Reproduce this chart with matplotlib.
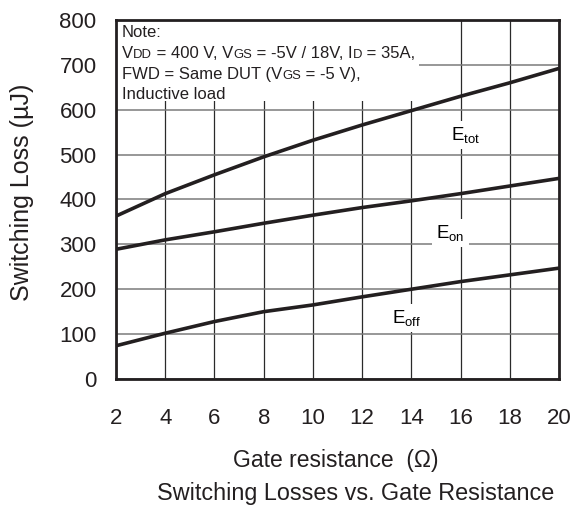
import numpy as np
import matplotlib
matplotlib.use('Agg')
import matplotlib.pyplot as plt
from matplotlib.patches import Rectangle
from matplotlib.transforms import offset_copy

plt.rcParams['font.family'] = ['Liberation Sans', 'DejaVu Sans']
plt.rcParams['mathtext.fontset'] = 'custom'
plt.rcParams['mathtext.rm'] = 'Liberation Sans'
plt.rcParams['mathtext.it'] = 'Liberation Sans'

# gate resistance (ohm) and switching losses (uJ)
rg = [2, 4, 6, 8, 10, 12, 14, 16, 18, 20]
e_tot = [363, 413, 455, 495, 532, 566, 598, 630, 660, 692]
e_on = [289, 310, 328, 347, 365, 382, 397, 413, 430, 447]
e_off = [74, 102, 128, 150, 165, 183, 200, 217, 232, 247]

x_ticks = [2, 4, 6, 8, 10, 12, 14, 16, 18, 20]
y_ticks = [0, 100, 200, 300, 400, 500, 600, 700, 800]

# note lines, as runs of (text, small?) so the small letters sit on the baseline
note_lines = [
    [('Note:', False)],
    [('V', False), ('DD', True), (' = 400 V, V', False), ('GS', True),
     (' = -5V / 18V, I', False), ('D', True), (' = 35A,', False)],
    [('FWD = Same DUT (V', False), ('GS', True), (' = -5 V),', False)],
    [('Inductive load', False)],
]

fig = plt.figure(figsize=(5.71, 5.07), dpi=100)
ax = fig.add_axes([0.2032, 0.2525, 0.7758, 0.7081])

for ys in (e_tot, e_on, e_off):
    ax.plot(rg, ys, color='#231f20', lw=2.6, solid_capstyle='butt', zorder=3)

ax.set_xlim(2, 20)
ax.set_ylim(0, 800)
ax.set_xticks(x_ticks)
ax.set_yticks(y_ticks)
ax.grid(True, axis='x', color='#2a2a2a', lw=0.9)
ax.grid(True, axis='y', color='#7a7a7a', lw=1.1)
ax.tick_params(axis='both', length=0, labelsize=16, colors='#231f20')
ax.tick_params(axis='x', pad=21)
ax.tick_params(axis='y', pad=14)
for s in ax.spines.values():
    s.set_linewidth(2.0)
    s.set_color('#231f20')
    s.set_zorder(6)

lab_box = dict(facecolor='white', edgecolor='none', pad=3)
ax.text(16.2, 543, r'E$_{\mathregular{tot}}$', fontsize=13.5, ha='center', va='center', bbox=lab_box, zorder=4)
ax.text(15.6, 325, r'E$_{\mathregular{on}}$', fontsize=13.5, ha='center', va='center', bbox=lab_box, zorder=4)
ax.text(13.8, 136, r'E$_{\mathregular{off}}$', fontsize=13.5, ha='center', va='center', bbox=lab_box, zorder=4)

# white note area in the upper left corner
ax.add_patch(Rectangle((2, 619), 12.3, 181, facecolor='white', edgecolor='none', zorder=2))

renderer = fig.canvas.get_renderer()
fs = 12
x0, y0 = 0.013, 0.952
for i, line in enumerate(note_lines):
    dx = 0.0
    for txt, small in line:
        tr = offset_copy(ax.transAxes, fig=fig, x=dx, y=-i * 20.7 * 0.72, units='points')
        t = ax.text(x0, y0, txt, transform=tr, fontsize=fs * 0.78 if small else fs,
                    ha='left', va='baseline', color='#231f20', zorder=5)
        dx += t.get_window_extent(renderer).width * 72 / fig.dpi

fig.text(0.0394, 0.6203, 'Switching Loss (\u00b5J)', fontsize=18, rotation=90,
         ha='center', va='center', color='#231f20')
fig.text(0.408, 0.0789, 'Gate resistance  (\u03a9)', fontsize=16.5, ha='left',
         va='baseline', color='#231f20')
fig.text(0.275, 0.0138, 'Switching Losses vs. Gate Resistance', fontsize=16.8, ha='left',
         va='baseline', color='#231f20')

fig.savefig('out.png', dpi=100)
